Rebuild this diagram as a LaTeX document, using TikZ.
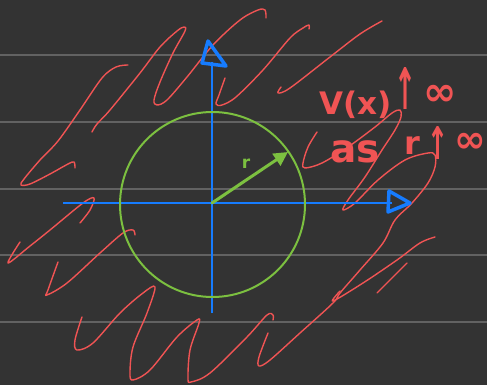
\documentclass[tikz,border=0pt]{standalone}
\usepackage{fontspec}
\usepackage{graphicx}
\newfontfamily\handfont{DejaVu Sans}
\usetikzlibrary{arrows.meta}
\definecolor{bgc}{RGB}{51,51,51}
\definecolor{rulec}{RGB}{98,98,98}
\definecolor{penred}{RGB}{240,84,84}
\definecolor{penblue}{RGB}{22,124,255}
\definecolor{pengreen}{RGB}{124,192,64}
\tikzset{
  rulestyle/.style={rulec, line width=2pt},
  redstroke/.style={penred, line width=1.4pt, line cap=round, line join=round},
  axisstyle/.style={penblue, line width=2.2pt},
  axishead/.style={penblue, line width=3.5pt, line join=round, line cap=round},
  circstyle/.style={pengreen, line width=2pt},
  radiusarrow/.style={pengreen, line width=3pt, line cap=round, -{Triangle[length=14pt,width=14pt]}},
  notetext/.style={penred, inner sep=0pt},
}
\begin{document}
\begin{tikzpicture}[x=1pt,y=-1pt]
\fill[bgc] (0,0) rectangle (487,385);
\useasboundingbox (0,0) rectangle (487,385);
% ruled lines
\foreach \yy in {55,122,189,255,322} \draw[rulestyle] (0,\yy) -- (487,\yy);

% red hatching
\draw[redstroke] plot[smooth, tension=0.55] coordinates {(128,65) (116,67) (102,78) (80,110) (58,141) (40,160) (24,179) (21,185) (30,184) (50,174) (68,164) (74,162) (75,168)};
\draw[redstroke] plot[smooth, tension=0.55] coordinates {(92,132) (97,124) (110,110) (140,73) (160,47) (177,31) (184,27) (185,31) (173,53) (160,82) (154,100) (157,105) (167,100) (187,77) (213,45) (240,20) (258,10) (265,10) (266,18)};
\draw[redstroke] plot[smooth, tension=0.55] coordinates {(225,78) (219,95) (216,104) (222,105) (236,97) (263,70) (290,38) (303,28) (309,25) (309,29)};
\draw[redstroke] plot[smooth, tension=0.55] coordinates {(281,87) (278,93) (290,88) (330,57) (360,34) (382,21)};
\draw[redstroke] plot[smooth, tension=0.55] coordinates {(317,132) (308,147) (303,163) (305,168) (322,163) (348,147) (375,127) (392,113) (400,110) (401,117) (395,130) (382,150) (365,177) (348,200) (343,210) (355,203) (378,180) (405,160) (428,153) (435,155) (435,167) (428,183) (412,203) (395,220) (383,243) (360,270) (340,293) (333,303) (300,333) (270,360) (259,366) (259,357) (268,333)};
\draw[redstroke] plot[smooth, tension=0.55] coordinates {(340,291) (333,301) (363,283) (397,260) (420,243) (435,237)};
\draw[redstroke] plot[smooth, tension=0.55] coordinates {(377,293) (395,275) (407,263)};
\draw[redstroke] plot[smooth, tension=0.55] coordinates {(20,242) (8,263) (30,246) (50,230) (83,203) (94,198) (90,210) (80,223)};
\draw[redstroke] plot[smooth, tension=0.55] coordinates {(58,262) (48,290) (47,295) (67,283) (100,253) (123,233) (133,230) (135,235)};
\draw[redstroke] plot[smooth, tension=0.55] coordinates {(82,317) (75,340) (77,350) (93,343) (120,313) (143,293) (155,287) (147,313) (133,347) (130,373) (133,380) (150,370) (177,337) (197,320) (199,323) (190,350) (188,378) (191,382) (210,373) (247,337) (267,315) (273,315) (273,320)};

% axes
\coordinate (O) at (212,203);
\coordinate (xl) at (63,203);
\coordinate (xr) at (392,203);
\coordinate (yt) at (212,62);
\coordinate (yb) at (212,313);
\draw[axisstyle] (xl) -- (xr);
\draw[axisstyle] (yb) -- (yt);
\coordinate (xh1) at (389,191);
\coordinate (xh2) at (388,212);
\coordinate (xh3) at (410,203);
\draw[axishead] (xh1) -- (xh2) -- (xh3) -- cycle;
\coordinate (yh1) at (208,41);
\coordinate (yh2) at (202,63);
\coordinate (yh3) at (226,66);
\draw[axishead] (yh1) -- (yh2) -- (yh3) -- cycle;

% circle and radius
\node[circstyle, draw, circle, minimum size=185pt, inner sep=0pt] (circ) at (212.5,204.5) {};
\coordinate (rtip) at (288,152);
\draw[radiusarrow] (O) -- (rtip);
\node[pengreen, font=\handfont\bfseries\fontsize{17}{17}\selectfont, inner sep=0pt] (rlab) at (246,164) {r};

% notes
\node[notetext, anchor=base west, font=\handfont\bfseries\fontsize{31}{31}\selectfont] (vx) at (319,115) {V(x)};
\node[notetext, font=\handfont\bfseries] (up1) at (405,89) {\resizebox{22pt}{42pt}{↑}};
\node[notetext, font=\handfont\bfseries\fontsize{40}{40}\selectfont] (inf1) at (440,95) {∞};
\node[notetext, anchor=base west, font=\handfont\bfseries\fontsize{39}{39}\selectfont] (as) at (330,162) {as};
\node[notetext, anchor=base west, font=\handfont\bfseries\fontsize{32}{32}\selectfont] (r2) at (404,154) {r};
\node[notetext, font=\handfont\bfseries] (up2) at (438,143) {\resizebox{21pt}{33pt}{↑}};
\node[notetext, font=\handfont\bfseries\fontsize{38}{38}\selectfont] (inf2) at (470,143) {∞};
\end{tikzpicture}
\end{document}
